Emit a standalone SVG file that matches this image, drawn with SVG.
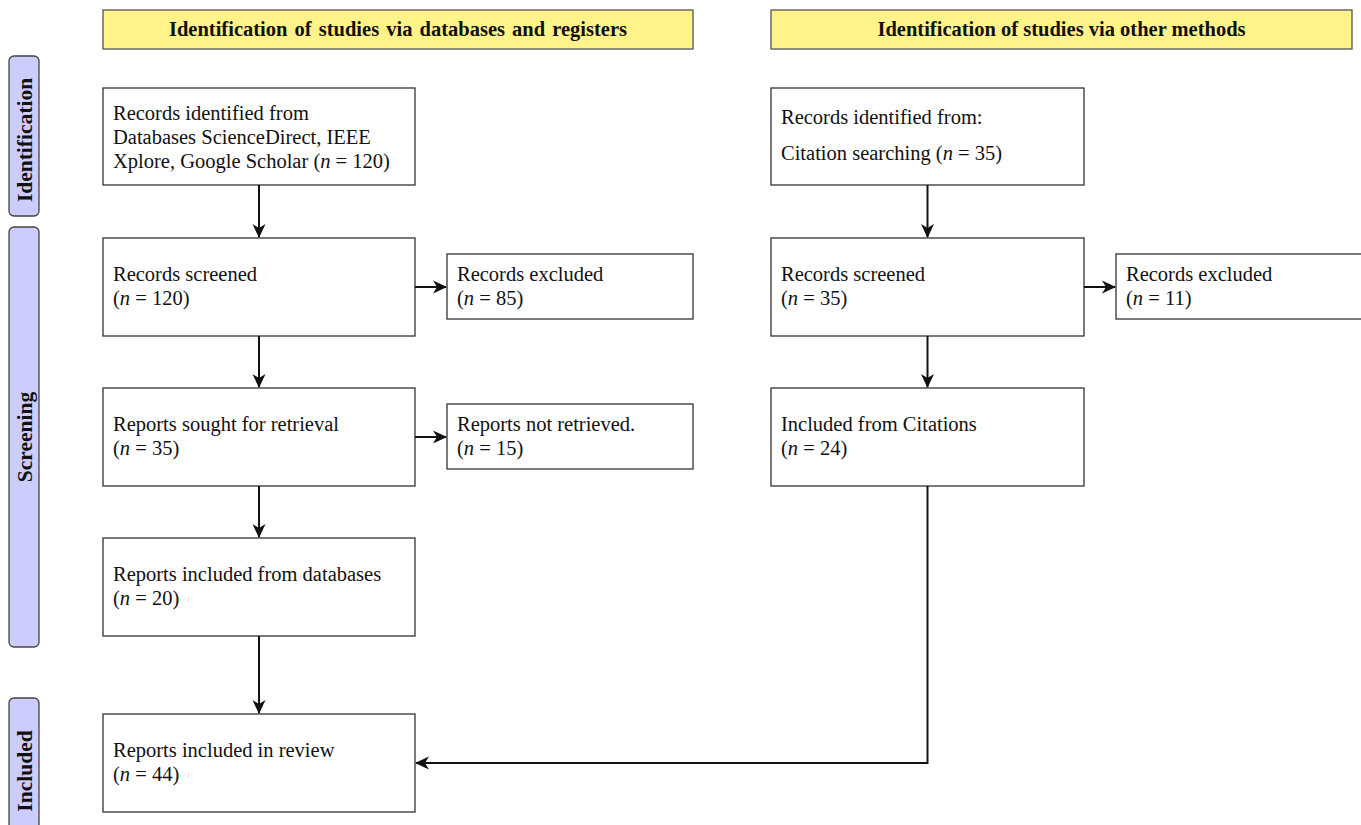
<svg xmlns="http://www.w3.org/2000/svg" width="1361" height="825" viewBox="0 0 1361 825">
<style>
text{font-family:"Liberation Serif","Times New Roman",serif;font-size:20.5px;fill:#111}
.hdr rect{fill:#FFF38A;stroke:#555;stroke-width:1.3}
.hdr text{font-weight:bold;text-anchor:middle}
.side rect{fill:#CCCCFF;stroke:#444;stroke-width:1.3}
.side text{font-weight:bold;text-anchor:middle;font-size:21.5px}
.box rect{fill:#fff;stroke:#333;stroke-width:1.3}
.conn path{fill:none;stroke:#111;stroke-width:2}
.m{font-style:italic}
</style>
<defs>
<marker id="ah" viewBox="0 0 14 14" refX="13" refY="7" markerWidth="14" markerHeight="14" markerUnits="userSpaceOnUse" orient="auto">
<path d="M0,0.5 L14,7 L0,13.5 L4,7 Z" fill="#111"/>
</marker>
</defs>
<g id="hdr-db" class="hdr"><rect x="103" y="10" width="590" height="39"/><text x="398" y="36" word-spacing="2">Identification of studies via databases and registers</text></g>
<g id="hdr-other" class="hdr"><rect x="771" y="10" width="581" height="39"/><text x="1061.5" y="36">Identification of studies via other methods</text></g>
<g id="side-identification" class="side"><rect x="9" y="56" width="30" height="160" rx="5"/><text transform="translate(24,140) rotate(-90)" y="7.5">Identification</text></g>
<g id="side-screening" class="side"><rect x="9" y="227" width="30" height="420" rx="5"/><text transform="translate(24,437) rotate(-90)" y="7.5">Screening</text></g>
<g id="side-included" class="side"><rect x="9" y="698" width="30" height="147" rx="5"/><text transform="translate(24,771) rotate(-90)" y="7.5">Included</text></g>
<g id="b1" class="box"><rect x="103" y="88" width="312" height="97"/><text x="113" y="119.5">Records identified from</text><text x="113" y="143.5">Databases ScienceDirect, IEEE</text><text x="113" y="167.5">Xplore, Google Scholar (<tspan class="m">n</tspan> = 120)</text></g>
<g id="b2" class="box"><rect x="103" y="238" width="312" height="98"/><text x="113" y="281">Records screened</text><text x="113" y="305">(<tspan class="m">n</tspan> = 120)</text></g>
<g id="e1" class="box"><rect x="447" y="254" width="246" height="65"/><text x="457" y="281">Records excluded</text><text x="457" y="305">(<tspan class="m">n</tspan> = 85)</text></g>
<g id="b3" class="box"><rect x="103" y="388" width="312" height="98"/><text x="113" y="431">Reports sought for retrieval</text><text x="113" y="455">(<tspan class="m">n</tspan> = 35)</text></g>
<g id="e2" class="box"><rect x="447" y="404" width="246" height="65"/><text x="457" y="431">Reports not retrieved.</text><text x="457" y="455">(<tspan class="m">n</tspan> = 15)</text></g>
<g id="b4" class="box"><rect x="103" y="538" width="312" height="98"/><text x="113" y="581">Reports included from databases</text><text x="113" y="605">(<tspan class="m">n</tspan> = 20)</text></g>
<g id="b5" class="box"><rect x="103" y="714" width="312" height="98"/><text x="113" y="757">Reports included in review</text><text x="113" y="781">(<tspan class="m">n</tspan> = 44)</text></g>
<g id="r1" class="box"><rect x="771" y="88" width="313" height="97"/><text x="781" y="124">Records identified from:</text><text x="781" y="160">Citation searching (<tspan class="m">n</tspan> = 35)</text></g>
<g id="r2" class="box"><rect x="771" y="238" width="313" height="98"/><text x="781" y="281">Records screened</text><text x="781" y="305">(<tspan class="m">n</tspan> = 35)</text></g>
<g id="re" class="box"><rect x="1116" y="254" width="260" height="65"/><text x="1126" y="281">Records excluded</text><text x="1126" y="305">(<tspan class="m">n</tspan> = 11)</text></g>
<g id="r3" class="box"><rect x="771" y="388" width="313" height="98"/><text x="781" y="431">Included from Citations</text><text x="781" y="455">(<tspan class="m">n</tspan> = 24)</text></g>
<g id="connectors" class="conn">
<path d="M259,185 V237" marker-end="url(#ah)"/>
<path d="M259,336 V387" marker-end="url(#ah)"/>
<path d="M259,486 V537" marker-end="url(#ah)"/>
<path d="M259,636 V713" marker-end="url(#ah)"/>
<path d="M415,287 H446" marker-end="url(#ah)"/>
<path d="M415,437 H446" marker-end="url(#ah)"/>
<path d="M927.5,185 V237" marker-end="url(#ah)"/>
<path d="M927.5,336 V387" marker-end="url(#ah)"/>
<path d="M1084,287 H1115" marker-end="url(#ah)"/>
<path d="M927.5,486 V763 H416" marker-end="url(#ah)"/>
</g>
</svg>
